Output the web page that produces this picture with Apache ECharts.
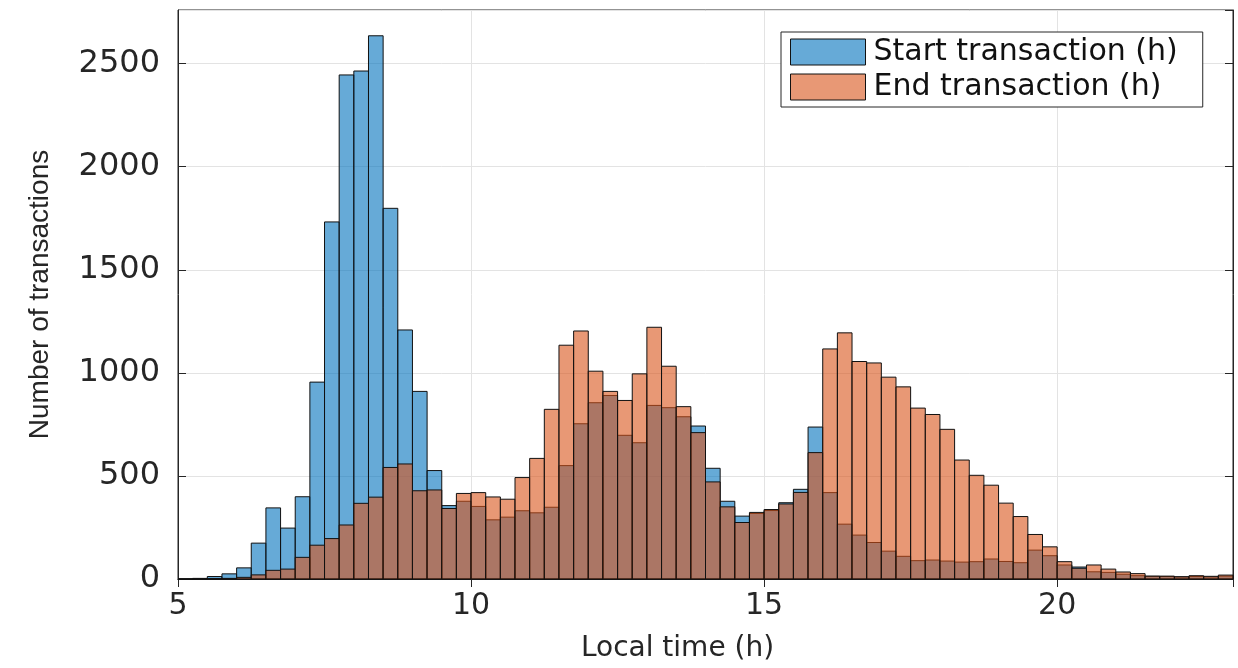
<!DOCTYPE html>
<html>
<head>
<meta charset="utf-8">
<script src="https://cdn.jsdelivr.net/npm/echarts@6/dist/echarts.min.js"></script>
<style>
html,body{margin:0;padding:0;background:#fff;}
#chart{width:1238px;height:668px;}
</style>
</head>
<body>
<div id="chart"></div>
<script>
// Histogram bins: 0.25 h wide, starting at 5 h
const binLeft = 5;
const binWidth = 0.25;
const xTicks = [5, 10, 15, 20];
const yTicks = [0, 500, 1000, 1500, 2000, 2500];
const seriesNames = ['Start transaction (h)', 'End transaction (h)'];

const startCounts = [
  0, 3, 12, 25, 54, 174, 345, 247, 399, 955, 1732, 2445,
  2464, 2635, 1798, 1208, 910, 526, 356, 377, 352, 287, 300, 331,
  321, 348, 550, 753, 855, 890, 697, 661, 842, 831, 787, 742,
  537, 377, 305, 318, 332, 370, 435, 737, 419, 266, 213, 177,
  135, 110, 89, 92, 87, 82, 84, 97, 85, 79, 140, 113,
  68, 58, 35, 32, 23, 16, 13, 12, 10, 12, 10, 14
];
const endCounts = [
  0, 0, 2, 3, 8, 20, 42, 48, 105, 164, 196, 262,
  367, 397, 541, 558, 428, 432, 342, 415, 419, 398, 387, 492,
  585, 823, 1134, 1203, 1008, 910, 866, 995, 1221, 1032, 836, 710,
  471, 350, 274, 323, 337, 364, 420, 613, 1116, 1194, 1055, 1048,
  979, 932, 829, 798, 726, 577, 503, 455, 368, 303, 216, 156,
  84, 52, 68, 48, 34, 26, 14, 14, 11, 16, 13, 19
];

function toBins(counts) {
  return counts.map((v, i) => [binLeft + i * binWidth, binLeft + (i + 1) * binWidth, v]);
}

const blueFill = 'rgba(0,114,189,0.6)';
const orangeFill = 'rgba(217,83,25,0.6)';
const edge = '#111111';
const axisCol = '#262626';
const font = 'DejaVu Sans';

function renderHist(params, api) {
  const x0 = api.value(0), x1 = api.value(1), y = api.value(2);
  const p0 = api.coord([x0, 0]);
  const p1 = api.coord([x1, y]);
  return {
    type: 'rect',
    shape: { x: p0[0], y: p1[1], width: p1[0] - p0[0], height: p0[1] - p1[1] },
    style: { fill: api.visual('color'), stroke: edge, lineWidth: 1 }
  };
}

const chart = echarts.init(document.getElementById('chart'), null, { renderer: 'canvas' });
chart.setOption({
  animation: false,
  backgroundColor: '#ffffff',
  grid: { left: 178, right: 5, top: 10, bottom: 86, show: true, borderColor: axisCol, borderWidth: 1, containLabel: false },
  legend: {
    orient: 'vertical',
    left: 781,
    top: 32,
    padding: [5, 25, 5, 9],
    itemGap: 5,
    itemWidth: 75,
    itemHeight: 26,
    backgroundColor: '#ffffff',
    borderColor: axisCol,
    borderWidth: 1,
    borderRadius: 0,
    icon: 'rect',
    itemStyle: { borderColor: edge, borderWidth: 1 },
    textStyle: { fontFamily: font, fontSize: 30, color: '#111', lineHeight: 30, padding: [0, 0, 0, 3] },
    data: seriesNames
  },
  xAxis: [{
    type: 'value',
    min: 5, max: 23, interval: 5,
    position: 'bottom',
    name: 'Local time (h)',
    nameLocation: 'middle',
    nameGap: 56,
    nameTextStyle: { fontFamily: font, fontSize: 28, color: axisCol, padding: [0, 56, 0, 0] },
    axisLine: { show: true, lineStyle: { color: axisCol, width: 1 } },
    axisTick: { show: true, inside: true, length: 8, lineStyle: { color: axisCol } },
    axisLabel: {
      fontFamily: font, fontSize: 30, color: axisCol, margin: 12, showMaxLabel: false,
      formatter: v => (xTicks.indexOf(v) >= 0 ? String(v) : '')
    },
    splitLine: { show: true, lineStyle: { color: '#e3e3e3', width: 1 } }
  }, {
    type: 'value',
    min: 5, max: 23, interval: 5,
    position: 'top',
    axisLine: { show: true, lineStyle: { color: axisCol } },
    axisTick: { show: true, inside: true, length: 8, lineStyle: { color: axisCol } },
    axisLabel: { show: false },
    splitLine: { show: false }
  }],
  yAxis: [{
    type: 'value',
    min: 0, max: 2760, interval: 500,
    position: 'left',
    name: 'Number of transactions',
    nameLocation: 'middle',
    nameGap: 124,
    nameTextStyle: { fontFamily: 'Liberation Sans, Arial, sans-serif', fontSize: 28, color: axisCol },
    axisLine: { show: true, lineStyle: { color: axisCol, width: 1 } },
    axisTick: { show: true, inside: true, length: 8, lineStyle: { color: axisCol } },
    axisLabel: {
      fontFamily: font, fontSize: 32, color: axisCol, margin: 18, showMaxLabel: false,
      formatter: v => (yTicks.indexOf(v) >= 0 ? String(v) : '')
    },
    splitLine: { show: true, lineStyle: { color: '#e3e3e3', width: 1 } }
  }, {
    type: 'value',
    min: 0, max: 2760, interval: 500,
    position: 'right',
    axisLine: { show: true, lineStyle: { color: axisCol } },
    axisTick: { show: true, inside: true, length: 8, lineStyle: { color: axisCol } },
    axisLabel: { show: false },
    splitLine: { show: false }
  }],
  series: [{
    name: seriesNames[0],
    type: 'custom',
    xAxisIndex: 0, yAxisIndex: 0,
    renderItem: renderHist,
    itemStyle: { color: blueFill, borderColor: edge, borderWidth: 1 },
    encode: { x: [0, 1], y: 2 },
    data: toBins(startCounts),
    z: 2
  }, {
    name: seriesNames[1],
    type: 'custom',
    xAxisIndex: 0, yAxisIndex: 0,
    renderItem: renderHist,
    itemStyle: { color: orangeFill, borderColor: edge, borderWidth: 1 },
    encode: { x: [0, 1], y: 2 },
    data: toBins(endCounts),
    z: 3
  }]
});
</script>
</body>
</html>
